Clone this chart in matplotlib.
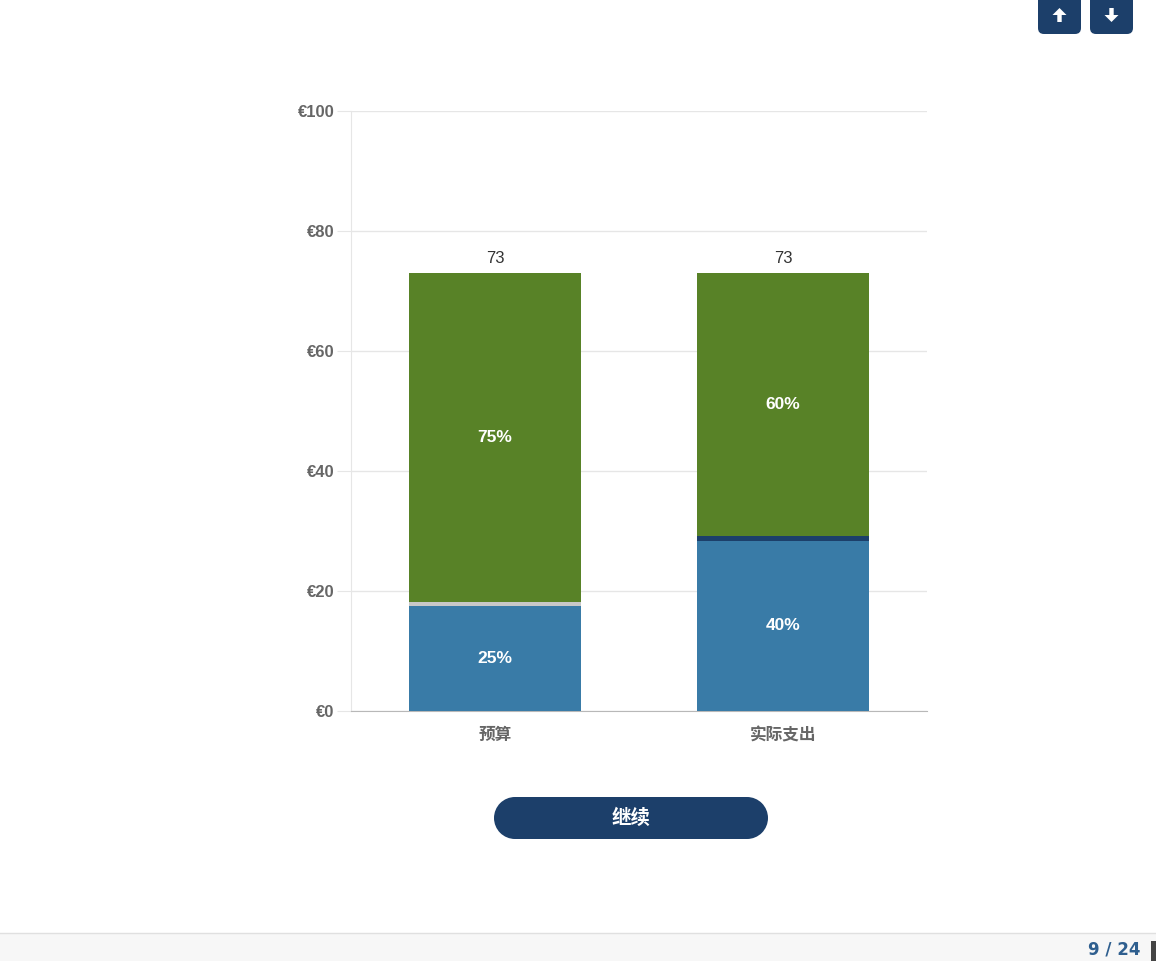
import matplotlib.pyplot as plt
from matplotlib.patches import FancyBboxPatch, Rectangle, Polygon, Circle

plt.rcParams['font.family'] = ['Liberation Sans', 'Noto Sans CJK SC', 'DejaVu Sans']

categories = ['预算', '实际支出']
base_values = [17.5, 28.4]
sep_values = [0.7, 0.7]
top_values = [54.8, 43.9]
base_labels = ['25%', '40%']
top_labels = ['75%', '60%']
totals = [73, 73]
y_ticks = [0, 20, 40, 60, 80, 100]

blue = '#397ba7'
green = '#588227'
navy = '#1c3f6a'
sep_colors = ['#c8c8c8', navy]

fig = plt.figure(figsize=(11.56, 9.61), dpi=100)
ax = fig.add_axes([351 / 1156, 250 / 961, 576 / 1156, 600 / 961])

x = list(range(len(categories)))
width = 0.6
ax.bar(x, base_values, width, color=blue, zorder=3)
ax.bar(x, sep_values, width, bottom=base_values, color=sep_colors, zorder=3)
bottoms = [b + s for b, s in zip(base_values, sep_values)]
ax.bar(x, top_values, width, bottom=bottoms, color=green, zorder=3)

for i in x:
    ax.text(i, base_values[i] / 2, base_labels[i], ha='center', va='center',
            color='white', fontsize=12.5, fontweight='bold', zorder=4)
    ax.text(i, bottoms[i] + top_values[i] / 2, top_labels[i], ha='center', va='center',
            color='white', fontsize=12.5, fontweight='bold', zorder=4)
    ax.text(i, totals[i] + 1.2, str(totals[i]), ha='center', va='bottom',
            color='#333333', fontsize=12, zorder=4)

ax.set_xlim(-0.5, 1.5)
ax.set_ylim(0, 100)
ax.set_yticks(y_ticks)
ax.set_yticklabels(['€' + str(v) for v in y_ticks])
ax.set_xticks(x)
ax.set_xticklabels(categories)
ax.grid(axis='y', color='#e6e6e6', linewidth=1, zorder=0)
for lbl in ax.get_yticklabels():
    lbl.set_fontweight('bold')
for lbl in ax.get_xticklabels():
    lbl.set_fontweight('bold')
ax.tick_params(axis='y', length=10, color='#e6e6e6', labelcolor='#666666',
               labelsize=12, pad=2)
ax.tick_params(axis='x', length=0, labelcolor='#666666', labelsize=12, pad=12)
ax.spines['top'].set_visible(False)
ax.spines['right'].set_visible(False)
ax.spines['left'].set_color('#e6e6e6')
ax.spines['bottom'].set_color('#b8b8b8')

# overlay in pixel coordinates for page elements
ov = fig.add_axes([0, 0, 1, 1], zorder=-1)
ov.set_xlim(0, 1156)
ov.set_ylim(961, 0)
ov.axis('off')

# continue button (pill)
ov.add_patch(Rectangle((515, 797), 232, 42, facecolor=navy, edgecolor='none'))
ov.add_patch(Circle((515, 818), 21, facecolor=navy, edgecolor='none'))
ov.add_patch(Circle((747, 818), 21, facecolor=navy, edgecolor='none'))
ov.text(631, 818, '继续', ha='center', va='center', color='white',
        fontsize=14, fontweight='bold')

# top-right arrow buttons
for bx, up in [(1038, True), (1090, False)]:
    ov.add_patch(FancyBboxPatch((bx, -6), 43, 40, boxstyle='round,pad=0,rounding_size=6',
                                facecolor=navy, edgecolor='none'))
    cx = bx + 21.5
    pts = [(0, -7), (7, 0), (2.2, 0), (2.2, 7), (-2.2, 7), (-2.2, 0), (-7, 0)]
    if not up:
        pts = [(px, -py) for px, py in pts]
    ov.add_patch(Polygon([(cx + px, 15 + py) for px, py in pts], closed=True,
                         facecolor='white', edgecolor='none'))

# bottom page bar
ov.add_patch(Rectangle((0, 933), 1156, 28, facecolor='#f7f7f7', edgecolor='none'))
ov.plot([0, 1156], [933, 933], color='#e0e0e0', linewidth=1)
ov.text(1140, 950, '9 / 24', ha='right', va='center', color='#2f5f8f',
        fontsize=12, fontweight='bold', family='DejaVu Sans')
ov.add_patch(Rectangle((1151, 941), 6, 20, facecolor='#444444', edgecolor='none'))

fig.savefig('out.png', dpi=100)
